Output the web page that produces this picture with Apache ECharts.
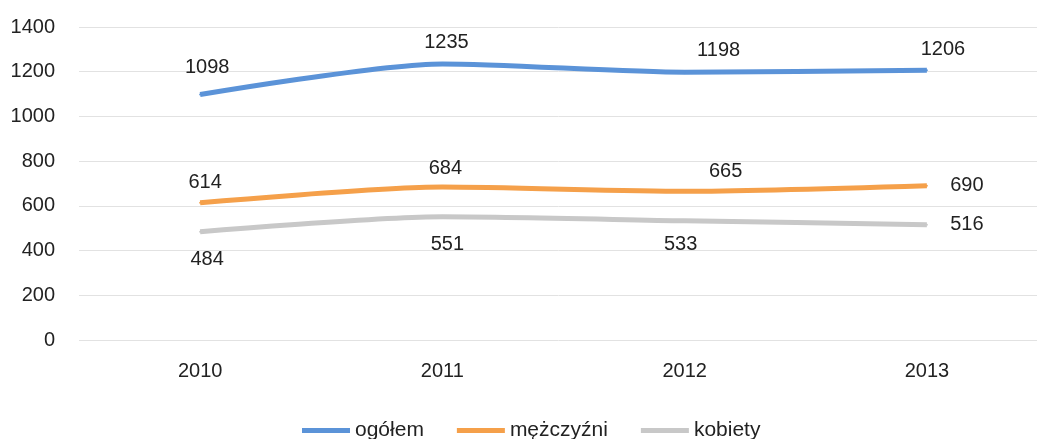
<!DOCTYPE html>
<html><head><meta charset="utf-8">
<script src="https://cdn.jsdelivr.net/npm/echarts@6/dist/echarts.min.js"></script>
<style>html,body{margin:0;padding:0;background:#fff}#c{width:1037px;height:439px}</style>
</head><body><div id="c"></div>
<script>
const years = ['2010', '2011', '2012', '2013'];
const ogolem = [1098, 1235, 1198, 1206];
const mezczyzni = [614, 684, 665, 690];
const kobiety = [484, 551, 533, 516];
const yTicks = [0, 200, 400, 600, 800, 1000, 1200, 1400];

// label placement (styling only)
const offOgolem = [[7, -27], [4, -21], [34, -22], [16, -21]];
const offMez = [[5, -20], [3, -19], [41, -20], [40, 0]];
const offKob = [[7, 28], [5, 28], [-4, 24], [40, 0]];

const font = 'Liberation Sans, Arial, sans-serif';
function mk(name, vals, offs, color) {
  return {
    name: name, type: 'line', smooth: 0.25,
    symbol: 'circle', symbolSize: 2, showSymbol: true,
    lineStyle: { width: 5, color: color },
    itemStyle: { color: color },
    data: vals.map((v, i) => ({
      value: v,
      label: { show: true, position: 'inside', offset: offs[i],
        fontSize: 20, color: '#222', fontFamily: font }
    })),
    emphasis: { disabled: true }
  };
}
const chart = echarts.init(document.getElementById('c'));
chart.setOption({
  animation: false,
  grid: { left: 79, top: 27, width: 969, height: 313, containLabel: false, outerBoundsMode: 'none' },
  legend: {
    left: 297, top: 415, icon: 'rect', itemWidth: 48, itemHeight: 5, itemGap: 33,
    textStyle: { fontSize: 21, color: '#222', fontFamily: font },
    data: ['ogółem', 'mężczyźni', 'kobiety']
  },
  xAxis: {
    type: 'category', data: years, boundaryGap: true,
    axisLine: { show: false }, axisTick: { show: false },
    axisLabel: { fontSize: 20, color: '#222', fontFamily: font, margin: 21 }
  },
  yAxis: {
    type: 'value', min: yTicks[0], max: yTicks[yTicks.length - 1], interval: 200,
    axisLine: { show: false }, axisTick: { show: false },
    axisLabel: { fontSize: 20, color: '#222', fontFamily: font, margin: 24,
      formatter: v => String(v) },
    splitLine: { lineStyle: { color: '#e2e2e2', width: 1 } }
  },
  series: [
    mk('ogółem', ogolem, offOgolem, '#5b93d8'),
    mk('mężczyźni', mezczyzni, offMez, '#f5a04a'),
    mk('kobiety', kobiety, offKob, '#c8c8c8')
  ]
});
</script></body></html>
